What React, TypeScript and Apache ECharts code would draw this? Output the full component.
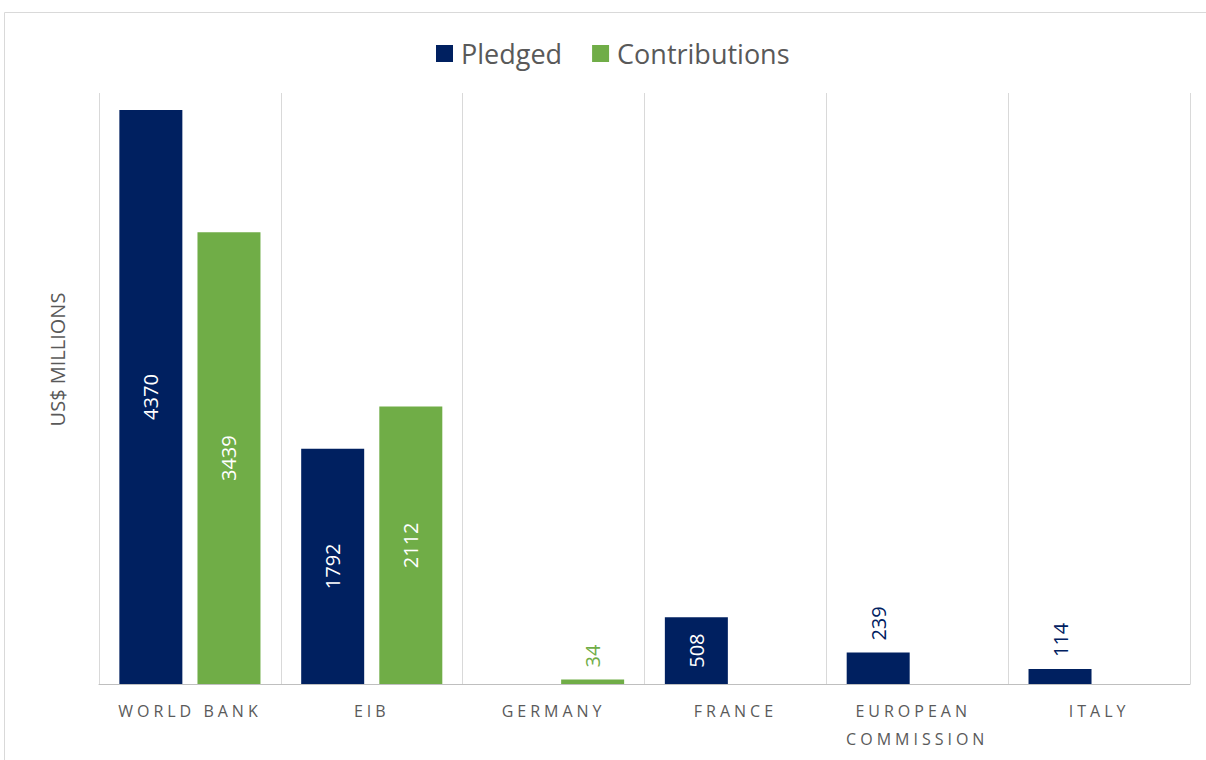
import React, { useEffect, useRef } from "react";
import * as echarts from "echarts";

const categories = ["WORLD BANK", "EIB", "GERMANY", "FRANCE", "EUROPEAN COMMISSION", "ITALY"];
const pledged: (number | null)[] = [4370, 1792, null, 508, 239, 114];
const contributions: (number | null)[] = [3439, 2112, 34, null, null, null];
const outsideThreshold = 300;

const NAVY = "#002060";
const GREEN = "#70ad47";
const GRAY = "#595959";
const XLABEL = "#5a5a5a";
const FONT = "'Open Sans', 'Liberation Sans', sans-serif";

function toData(vals: (number | null)[], color: string) {
  return vals.map((v) => {
    if (v === null) return null;
    const outside = v < outsideThreshold;
    return {
      value: v,
      label: outside
        ? {
            show: true,
            position: "top",
            rotate: 90,
            align: "left",
            verticalAlign: "middle",
            distance: 12,
            color,
          }
        : {
            show: true,
            position: "inside",
            rotate: 90,
            align: "center",
            verticalAlign: "middle",
            color: "#ffffff",
          },
    };
  });
}

export default function App() {
  const ref = useRef<HTMLDivElement>(null);
  useEffect(() => {
    document.body.style.margin = "0";
    const chart = echarts.init(ref.current!, null, { renderer: "svg" });
    chart.setOption({
      animation: false,
      textStyle: { fontFamily: FONT },
      graphic: [
        {
          type: "rect",
          shape: { x: 4.5, y: 12.5, width: 1220, height: 800 },
          style: { fill: "none", stroke: "#d9d9d9", lineWidth: 1 },
          silent: true,
        },
      ],
      legend: {
        left: 431,
        top: 35,
        icon: "rect",
        itemWidth: 17,
        itemHeight: 17,
        itemGap: 30,
        textStyle: {
          fontSize: 27,
          color: GRAY,
          fontFamily: FONT,
          padding: [0, 0, 0, 3],
        },
        data: ["Pledged", "Contributions"],
      },
      grid: { left: 99, right: 16, top: 93, bottom: 76, containLabel: false },
      xAxis: {
        type: "category",
        data: categories,
        axisLine: { lineStyle: { color: "#bfbfbf", width: 1 } },
        axisTick: { show: false },
        splitLine: { show: true, lineStyle: { color: "#d9d9d9", width: 1 } },
        axisLabel: {
          color: XLABEL,
          fontSize: 16,
          fontFamily: FONT,
          margin: 13,
          lineHeight: 28,
          width: 140,
          overflow: "break",
          interval: 0,
        },
      },
      yAxis: {
        type: "value",
        min: 0,
        max: 4500,
        name: "US$ MILLIONS",
        nameLocation: "middle",
        nameGap: 32,
        nameTextStyle: {
          color: GRAY,
          fontSize: 20,
          fontFamily: FONT,
          padding: [0, 0, 0, 58],
        },
        axisLine: { show: false },
        axisTick: { show: false },
        axisLabel: { show: false },
        splitLine: { show: false },
      },
      series: [
        {
          name: "Pledged",
          type: "bar",
          data: toData(pledged, NAVY),
          itemStyle: { color: NAVY },
          barWidth: 63,
          barGap: "24%",
          label: { fontSize: 20, fontFamily: FONT },
        },
        {
          name: "Contributions",
          type: "bar",
          data: toData(contributions, GREEN),
          itemStyle: { color: GREEN },
          barWidth: 63,
          label: { fontSize: 20, fontFamily: FONT },
        },
      ],
    });
    return () => chart.dispose();
  }, []);
  return (
    <>
      <style>{`text[fill="${XLABEL}"]{letter-spacing:4px;}`}</style>
      <div ref={ref} style={{ width: 1206, height: 760 }} />
    </>
  );
}
